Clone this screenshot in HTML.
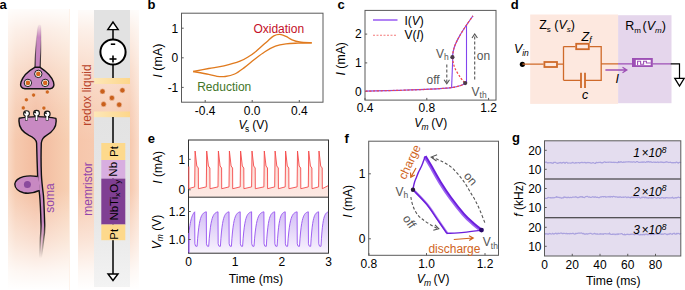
<!DOCTYPE html>
<html><head><meta charset="utf-8"><style>
html,body{margin:0;padding:0;background:#fff;width:685px;height:290px;overflow:hidden;}
svg{display:block;font-family:"Liberation Sans",sans-serif;}
</style></head><body>
<svg width="685" height="290" viewBox="0 0 685 290" font-family="Liberation Sans, sans-serif"><defs>
<linearGradient id="peachH" x1="8" x2="69.5" y1="0" y2="0" gradientUnits="userSpaceOnUse">
 <stop offset="0" stop-color="#f9dac6"/><stop offset="0.12" stop-color="#f6caaf"/><stop offset="0.45" stop-color="#f3bc9f"/><stop offset="0.65" stop-color="#f4c1a5"/><stop offset="1" stop-color="#f7d0b3"/>
</linearGradient>
<linearGradient id="peachH2" x1="78" x2="139" y1="0" y2="0" gradientUnits="userSpaceOnUse">
 <stop offset="0" stop-color="#f6c6ab"/><stop offset="0.5" stop-color="#f7cdb4"/><stop offset="0.85" stop-color="#f6c8ad"/><stop offset="1" stop-color="#fadcca"/>
</linearGradient>
<linearGradient id="fadeV" x1="0" x2="0" y1="9" y2="290" gradientUnits="userSpaceOnUse">
 <stop offset="0" stop-color="#fff" stop-opacity="0.95"/>
 <stop offset="0.075" stop-color="#fff" stop-opacity="0.72"/>
 <stop offset="0.217" stop-color="#fff" stop-opacity="0.38"/>
 <stop offset="0.36" stop-color="#fff" stop-opacity="0.12"/>
 <stop offset="0.47" stop-color="#fff" stop-opacity="0"/>
 <stop offset="0.64" stop-color="#fff" stop-opacity="0"/>
 <stop offset="0.82" stop-color="#fff" stop-opacity="0.5"/>
 <stop offset="0.93" stop-color="#fff" stop-opacity="0.85"/>
 <stop offset="1" stop-color="#fff" stop-opacity="1"/>
</linearGradient>
<linearGradient id="grayV" x1="0" x2="0" y1="0" y2="1">
 <stop offset="0" stop-color="#e3e3e3"/><stop offset="0.6" stop-color="#e7e7e7"/><stop offset="1" stop-color="#f3f3f3"/>
</linearGradient>
<linearGradient id="yel" x1="0" x2="1" y1="0" y2="0">
 <stop offset="0" stop-color="#fde7b8"/><stop offset="1" stop-color="#fdd68a"/>
</linearGradient>
<linearGradient id="axonFade" x1="0" x2="0" y1="0" y2="1">
 <stop offset="0" stop-color="#c77fbf" stop-opacity="0"/><stop offset="0.35" stop-color="#c77fbf" stop-opacity="1"/><stop offset="1" stop-color="#b46aae"/>
</linearGradient>
<linearGradient id="pinkFill" x1="0" x2="0" y1="150" y2="197" gradientUnits="userSpaceOnUse">
 <stop offset="0" stop-color="#fcdcd6"/><stop offset="1" stop-color="#fde9e3"/>
</linearGradient>
<linearGradient id="purpFill" x1="0" x2="0" y1="211" y2="253" gradientUnits="userSpaceOnUse">
 <stop offset="0" stop-color="#d4bff6"/><stop offset="1" stop-color="#f8f3fd"/>
</linearGradient>
</defs>
<text x="-0.6" y="8.9" font-size="13" fill="#000" text-anchor="start" font-weight="bold" font-style="normal" >a</text>
<rect x="8" y="9" width="61.5" height="281" fill="url(#peachH)"/>
<rect x="8" y="9" width="61.5" height="281" fill="url(#fadeV)"/>
<rect x="78" y="10" width="61" height="280" fill="url(#peachH2)"/>
<rect x="78" y="10" width="61" height="280" fill="url(#fadeV)"/>
<rect x="94" y="10" width="36" height="68" fill="#e2e2e2"/>
<rect x="94" y="117" width="36" height="170" fill="url(#grayV)"/>
<rect x="94" y="78" width="36" height="6" fill="url(#yel)"/>
<rect x="94" y="111.5" width="36" height="5.7" fill="url(#yel)"/>
<circle cx="102.5" cy="91.4" r="2.6" fill="#c9601c" stroke="#f4c8b0" stroke-width="0.6"/>
<circle cx="122.4" cy="90.3" r="2.6" fill="#c9601c" stroke="#f4c8b0" stroke-width="0.6"/>
<circle cx="111.9" cy="97.9" r="2.6" fill="#c9601c" stroke="#f4c8b0" stroke-width="0.6"/>
<circle cx="103.6" cy="104.2" r="2.6" fill="#c9601c" stroke="#f4c8b0" stroke-width="0.6"/>
<circle cx="119.2" cy="104.7" r="2.6" fill="#c9601c" stroke="#f4c8b0" stroke-width="0.6"/>
<line x1="113" y1="29.5" x2="113" y2="78" stroke="#000" stroke-width="1.5"/>
<line x1="113" y1="117" x2="113" y2="274" stroke="#000" stroke-width="1.5"/>
<path d="M113,22 L107.8,29.6 L118.2,29.6 Z" fill="#fff" stroke="#000" stroke-width="1.4" stroke-linejoin="miter"/>
<circle cx="113" cy="52" r="12.6" fill="#fff" stroke="#000" stroke-width="2"/>
<line x1="110.8" y1="44.2" x2="115.2" y2="44.2" stroke="#000" stroke-width="1.6"/>
<line x1="109.5" y1="59" x2="116.5" y2="59" stroke="#000" stroke-width="1.6"/><line x1="113" y1="55.5" x2="113" y2="62.5" stroke="#000" stroke-width="1.6"/>
<rect x="101.3" y="143" width="24" height="17" fill="#fdd98c"/>
<rect x="101.3" y="160" width="24" height="18.6" fill="#d8aee0"/>
<rect x="101.3" y="178.6" width="24" height="46" fill="#7f3f93"/>
<rect x="101.3" y="224.5" width="24" height="15.7" fill="#fdd98c"/>
<path d="M108,274 L118,274 L113,280.5 Z" fill="#fff" stroke="#000" stroke-width="1.4"/>
<text x="113.5" y="151.5" font-size="11.5" fill="#000" text-anchor="middle" font-style="normal" font-weight="normal" transform="rotate(-90 113.5 151.5)" dominant-baseline="central">Pt</text>
<text x="113.5" y="169.3" font-size="11.5" fill="#000" text-anchor="middle" font-style="normal" font-weight="normal" transform="rotate(-90 113.5 169.3)" dominant-baseline="central">Nb</text>
<text x="114.2" y="200.2" font-size="11.5" fill="#000" text-anchor="middle" font-style="normal" font-weight="normal" transform="rotate(-90 114.2 200.2)" dominant-baseline="central">NbTi<tspan font-size="8" dy="3">x</tspan><tspan dy="-3">O</tspan><tspan font-size="8" dy="3">y</tspan></text>
<text x="113.6" y="234.2" font-size="11.5" fill="#000" text-anchor="middle" font-style="normal" font-weight="normal" transform="rotate(-90 113.6 234.2)" dominant-baseline="central">Pt</text>
<text x="86.6" y="95" font-size="12" fill="#b8432a" text-anchor="middle" font-style="normal" font-weight="normal" transform="rotate(-90 86.6 95)" dominant-baseline="central">redox liquid</text>
<text x="87.7" y="189" font-size="12" fill="#9346ab" text-anchor="middle" font-style="normal" font-weight="normal" transform="rotate(-90 87.7 189)" dominant-baseline="central">memristor</text>
<text x="49.9" y="198" font-size="12" fill="#9346ab" text-anchor="middle" font-style="normal" font-weight="normal" transform="rotate(-90 49.9 198)" dominant-baseline="central">soma</text>
<linearGradient id="axF" x1="0" x2="0" y1="23" y2="70" gradientUnits="userSpaceOnUse"><stop offset="0" stop-color="#c683c0" stop-opacity="0"/><stop offset="0.08" stop-color="#c683c0" stop-opacity="0.25"/><stop offset="0.3" stop-color="#c683c0" stop-opacity="0.95"/><stop offset="1" stop-color="#c683c0"/></linearGradient>
<linearGradient id="axS" x1="0" x2="0" y1="23" y2="70" gradientUnits="userSpaceOnUse"><stop offset="0" stop-color="#111" stop-opacity="0"/><stop offset="0.35" stop-color="#111" stop-opacity="0.15"/><stop offset="0.7" stop-color="#111" stop-opacity="0.7"/><stop offset="1" stop-color="#111" stop-opacity="1"/></linearGradient>
<path d="M37.6,29 C38,24 40.8,23.5 41,27 C41.3,40 40.6,55 40.1,68 L35,68 C35.2,55 36.2,40 37.6,29 Z" fill="url(#axF)" stroke="url(#axS)" stroke-width="1.1"/>
<path d="M34.8,67.3 C29,70.5 23,76 21,82 C20,85.5 21,88.6 25,88.8 L50,88.8 C53.5,88.6 54.5,85.5 53.5,82 C51.5,76 45,70.5 40.1,67.3 Z" fill="#c889c2" stroke="#111" stroke-width="1.4" stroke-linejoin="round"/>
<circle cx="38.3" cy="73.9" r="3.7" fill="#fff" stroke="#1a1a1a" stroke-width="1"/><circle cx="38.3" cy="73.9" r="2.3" fill="#d5661e"/>
<circle cx="27.9" cy="82.9" r="3.7" fill="#fff" stroke="#1a1a1a" stroke-width="1"/><circle cx="27.9" cy="82.9" r="2.3" fill="#d5661e"/>
<circle cx="45.2" cy="82.9" r="3.7" fill="#fff" stroke="#1a1a1a" stroke-width="1"/><circle cx="45.2" cy="82.9" r="2.3" fill="#d5661e"/>
<circle cx="33.6" cy="95.1" r="2.05" fill="#d0661f" stroke="#fbe6d8" stroke-width="0.5"/>
<circle cx="47.3" cy="92" r="2.05" fill="#d0661f" stroke="#fbe6d8" stroke-width="0.5"/>
<circle cx="26.4" cy="99.8" r="2.05" fill="#d0661f" stroke="#fbe6d8" stroke-width="0.5"/>
<circle cx="23.3" cy="107.9" r="2.05" fill="#d0661f" stroke="#fbe6d8" stroke-width="0.5"/>
<circle cx="43.9" cy="108.1" r="2.05" fill="#d0661f" stroke="#fbe6d8" stroke-width="0.5"/>
<linearGradient id="dmG" x1="0" x2="0" y1="222" y2="258" gradientUnits="userSpaceOnUse"><stop offset="0" stop-color="#fff"/><stop offset="1" stop-color="#000"/></linearGradient><mask id="dendMask" maskUnits="userSpaceOnUse" x="0" y="100" width="70" height="170"><rect x="0" y="100" width="70" height="170" fill="url(#dmG)"/></mask>
<g mask="url(#dendMask)">
<path d="M19.2,118.3 C25,116.9 31,116.6 37.5,116.6 C44,116.6 50,117 55.9,118.4 C57.2,126 52.5,132 46.5,135.3 C43.5,137 41.7,139 41.3,143 C41,152 41,165 41.4,175 C41.8,183 42.8,190 43.4,195 C44,201 44.4,216 44.7,224 C44.8,230 44.2,236 43.8,238 C43,246 42,252 41.2,258 L39.8,258 C40,252 40.2,246 40.4,238 C40.8,233 41.2,229 41,224 C40.8,216 40.2,201 39.6,195 C39,190 38,183 37.6,175 C37.2,165 36.8,152 36.6,143 C36.2,139 33,137 29,135.3 C22.5,132 18,126 19.2,118.3 Z" fill="#c889c2" stroke="#111" stroke-width="1.4" stroke-linejoin="round"/>
</g>
<linearGradient id="fadeDend" x1="0" x2="0" y1="232" y2="260" gradientUnits="userSpaceOnUse"><stop offset="0" stop-color="#f9d9c8" stop-opacity="0"/><stop offset="1" stop-color="#fbe5d9" stop-opacity="1"/></linearGradient>
<path d="M37.6,176.5 C33,175.8 28,175.6 23.5,176.6 C18.5,177.8 14.8,181 14.8,184 C14.8,188 18.5,191.5 23.5,192.8 C29,194 34,193 39.2,190.5" fill="#c889c2" stroke="#111" stroke-width="1.4" stroke-linejoin="round"/>
<path d="M37.2,177.5 L38.8,190" stroke="#c889c2" stroke-width="2.4"/>
<circle cx="27.4" cy="184.4" r="3.5" fill="#8a4a9c"/>
<rect x="25.4" y="115.1" width="2.2" height="5.20" fill="#fff" stroke="#222" stroke-width="0.7"/>
<circle cx="26.5" cy="113.6" r="2.9" fill="#fff" stroke="#151515" stroke-width="1.1"/>
<path d="M23.6,113.0 L26.3,113.8 L25.3,110.89999999999999 Z" fill="#151515"/>
<rect x="25.75" y="115.39999999999999" width="1.5" height="4.50" fill="#fff"/>
<rect x="35.4" y="114.8" width="2.2" height="5.50" fill="#fff" stroke="#222" stroke-width="0.7"/>
<circle cx="36.5" cy="113.3" r="2.9" fill="#fff" stroke="#151515" stroke-width="1.1"/>
<path d="M33.6,112.7 L36.3,113.5 L35.3,110.6 Z" fill="#151515"/>
<rect x="35.75" y="115.1" width="1.5" height="4.80" fill="#fff"/>
<rect x="46.1" y="115.5" width="2.2" height="4.80" fill="#fff" stroke="#222" stroke-width="0.7"/>
<circle cx="47.2" cy="114" r="2.9" fill="#fff" stroke="#151515" stroke-width="1.1"/>
<path d="M44.300000000000004,113.4 L47.0,114.2 L46.0,111.3 Z" fill="#151515"/>
<rect x="46.45" y="115.8" width="1.5" height="4.10" fill="#fff"/>
<text x="147.6" y="8.9" font-size="13" fill="#000" text-anchor="start" font-weight="bold" font-style="normal" >b</text>
<rect x="181.5" y="13.2" width="141.5" height="89.0" fill="none" stroke="#5a5a5a" stroke-width="1"/>
<line x1="181.5" y1="28.2" x2="183.7" y2="28.2" stroke="#5a5a5a" stroke-width="1"/>
<text x="178.3" y="32.5" font-size="12" fill="#000" text-anchor="end" font-weight="normal" font-style="normal" >1</text>
<line x1="181.5" y1="57.8" x2="183.7" y2="57.8" stroke="#5a5a5a" stroke-width="1"/>
<text x="178.3" y="62.099999999999994" font-size="12" fill="#000" text-anchor="end" font-weight="normal" font-style="normal" >0</text>
<line x1="181.5" y1="87.4" x2="183.7" y2="87.4" stroke="#5a5a5a" stroke-width="1"/>
<text x="178.3" y="91.7" font-size="12" fill="#000" text-anchor="end" font-weight="normal" font-style="normal" >-1</text>
<line x1="205.2" y1="102.2" x2="205.2" y2="100.0" stroke="#5a5a5a" stroke-width="1"/>
<text x="205.2" y="115" font-size="12" fill="#000" text-anchor="middle" font-weight="normal" font-style="normal" >-0.4</text>
<line x1="252.2" y1="102.2" x2="252.2" y2="100.0" stroke="#5a5a5a" stroke-width="1"/>
<text x="252.2" y="115" font-size="12" fill="#000" text-anchor="middle" font-weight="normal" font-style="normal" >0.0</text>
<line x1="299.3" y1="102.2" x2="299.3" y2="100.0" stroke="#5a5a5a" stroke-width="1"/>
<text x="299.3" y="115" font-size="12" fill="#000" text-anchor="middle" font-weight="normal" font-style="normal" >0.4</text>
<path d="M193.20,71.50 C195.78,71.00 203.57,69.45 208.70,68.50 C213.83,67.55 218.78,67.02 224.00,65.80 C229.22,64.58 235.80,62.78 240.00,61.20 C244.20,59.62 246.47,58.00 249.20,56.30 C251.93,54.60 254.18,52.78 256.40,51.00 C258.62,49.22 260.60,47.28 262.50,45.60 C264.40,43.92 265.92,42.52 267.80,40.90 C269.68,39.28 271.78,36.98 273.80,35.90 C275.82,34.82 277.87,34.32 279.90,34.40 C281.93,34.48 283.97,35.50 286.00,36.40 C288.03,37.30 289.82,38.87 292.10,39.80 C294.38,40.73 296.42,41.48 299.70,42.00 C302.98,42.52 309.78,42.75 311.80,42.90" fill="none" stroke="#e07a1e" stroke-width="1.35"/>
<path d="M311.80,42.90 C309.52,42.95 302.40,43.03 298.10,43.20 C293.80,43.37 289.78,43.40 286.00,43.90 C282.22,44.40 278.92,44.88 275.40,46.20 C271.88,47.52 268.47,49.53 264.90,51.80 C261.33,54.07 257.43,57.17 254.00,59.80 C250.57,62.43 247.52,65.23 244.30,67.60 C241.08,69.97 237.88,72.52 234.70,74.00 C231.52,75.48 228.15,76.12 225.20,76.50 C222.25,76.88 219.75,76.65 217.00,76.30 C214.25,75.95 212.67,75.20 208.70,74.40 C204.73,73.60 195.78,71.98 193.20,71.50" fill="none" stroke="#e07a1e" stroke-width="1.35"/>
<text x="253.4" y="32.8" font-size="12" fill="#c40f28" text-anchor="start" font-weight="normal" font-style="normal" >Oxidation</text>
<text x="197.2" y="90.5" font-size="12" fill="#437629" text-anchor="start" font-weight="normal" font-style="normal" >Reduction</text>
<text x="157.8" y="60.6" font-size="12.5" text-anchor="middle" transform="rotate(-90 157.8 60.6)" dominant-baseline="central"><tspan font-style="italic">I</tspan> (mA)</text>
<text x="238.4" y="129.3" font-size="12" fill="#000" text-anchor="start" font-weight="normal" font-style="normal" ><tspan font-style="italic">V</tspan><tspan font-size="8.5" dy="3" dx="-1.3">s</tspan><tspan dy="-3" dx="2.8">(V)</tspan></text>
<text x="337.4" y="9.1" font-size="13" fill="#000" text-anchor="start" font-weight="bold" font-style="normal" >c</text>
<rect x="365" y="10.4" width="131" height="89.69999999999999" fill="none" stroke="#5a5a5a" stroke-width="1"/>
<line x1="365" y1="34.1" x2="367.2" y2="34.1" stroke="#5a5a5a" stroke-width="1"/>
<text x="361.8" y="38.4" font-size="12" fill="#000" text-anchor="end" font-weight="normal" font-style="normal" >2</text>
<line x1="365" y1="62.9" x2="367.2" y2="62.9" stroke="#5a5a5a" stroke-width="1"/>
<text x="361.8" y="67.2" font-size="12" fill="#000" text-anchor="end" font-weight="normal" font-style="normal" >1</text>
<line x1="365" y1="91.4" x2="367.2" y2="91.4" stroke="#5a5a5a" stroke-width="1"/>
<text x="361.8" y="95.7" font-size="12" fill="#000" text-anchor="end" font-weight="normal" font-style="normal" >0</text>
<line x1="365" y1="100.1" x2="365" y2="97.89999999999999" stroke="#5a5a5a" stroke-width="1"/>
<text x="365" y="111.5" font-size="12" fill="#000" text-anchor="middle" font-weight="normal" font-style="normal" >0.4</text>
<line x1="426.8" y1="100.1" x2="426.8" y2="97.89999999999999" stroke="#5a5a5a" stroke-width="1"/>
<text x="426.8" y="111.5" font-size="12" fill="#000" text-anchor="middle" font-weight="normal" font-style="normal" >0.8</text>
<line x1="488.6" y1="100.1" x2="488.6" y2="97.89999999999999" stroke="#5a5a5a" stroke-width="1"/>
<text x="488.6" y="111.5" font-size="12" fill="#000" text-anchor="middle" font-weight="normal" font-style="normal" >1.2</text>
<path d="M365.50,91.20 C371.25,91.05 389.25,90.63 400.00,90.30 C410.75,89.97 421.43,89.65 430.00,89.20 C438.57,88.75 446.17,88.25 451.40,87.60 C456.63,86.95 459.10,86.05 461.40,85.30 C463.70,84.55 464.57,83.47 465.20,83.10" fill="none" stroke="#8245ee" stroke-width="1.2"/>
<path d="M452.40,57.20 C452.55,56.17 452.83,53.07 453.30,51.00 C453.77,48.93 454.10,47.40 455.20,44.80 C456.30,42.20 458.00,38.72 459.90,35.40 C461.80,32.08 464.42,28.17 466.60,24.90 C468.78,21.63 471.93,17.32 473.00,15.80" fill="none" stroke="#8245ee" stroke-width="1.2"/>
<line x1="466.5" y1="83.5" x2="466.5" y2="25" stroke="#8245ee" stroke-width="1.1"/>
<line x1="452.8" y1="57" x2="451.6" y2="87.8" stroke="#8245ee" stroke-width="1.1"/>
<path d="M365.50,91.20 C371.25,91.05 389.25,90.63 400.00,90.30 C410.75,89.97 421.43,89.65 430.00,89.20 C438.57,88.75 446.17,88.25 451.40,87.60 C456.63,86.95 459.10,86.05 461.40,85.30 C463.70,84.55 464.57,83.47 465.20,83.10" fill="none" stroke="#f24848" stroke-width="1.2" stroke-dasharray="2.2 1.6"/>
<path d="M452.40,57.20 C452.55,56.17 452.83,53.07 453.30,51.00 C453.77,48.93 454.10,47.40 455.20,44.80 C456.30,42.20 458.00,38.72 459.90,35.40 C461.80,32.08 464.42,28.17 466.60,24.90 C468.78,21.63 471.93,17.32 473.00,15.80" fill="none" stroke="#f24848" stroke-width="1.2" stroke-dasharray="2.2 1.6"/>
<path d="M452.40,57.20 C452.75,58.87 453.15,63.80 454.50,67.20 C455.85,70.60 458.72,74.95 460.50,77.60 C462.28,80.25 464.42,82.18 465.20,83.10" fill="none" stroke="#f24848" stroke-width="1.2" stroke-dasharray="2.2 1.6"/>
<circle cx="452.4" cy="57.2" r="2.1" fill="#4a3a4a"/><circle cx="465.2" cy="83.1" r="2.1" fill="#4a3a4a"/>
<line x1="373" y1="20" x2="397.5" y2="20" stroke="#a36cf4" stroke-width="1.7"/>
<line x1="373" y1="35.2" x2="397.5" y2="35.2" stroke="#f47a7a" stroke-width="1.1" stroke-dasharray="2 1.5"/>
<text x="404.5" y="24.6" font-size="12" fill="#000" text-anchor="start" font-weight="normal" font-style="normal" >I(<tspan font-style="italic">V</tspan>)</text>
<text x="404.5" y="39.3" font-size="12" fill="#000" text-anchor="start" font-weight="normal" font-style="normal" >V(<tspan font-style="italic">I</tspan>)</text>
<line x1="474.7" y1="79.5" x2="474.7" y2="35" stroke="#555" stroke-width="1.1" stroke-dasharray="3 2"/>
<path d="M472,38 L474.7,34 L477.4,38" fill="none" stroke="#555" stroke-width="1.1"/>
<line x1="446.8" y1="64.5" x2="446.8" y2="83" stroke="#555" stroke-width="1.1" stroke-dasharray="3 2"/>
<path d="M444.1,79.8 L446.8,83.8 L449.5,79.8" fill="none" stroke="#555" stroke-width="1.1"/>
<text x="436" y="57.8" font-size="12" fill="#555" text-anchor="start" font-weight="normal" font-style="normal" >V<tspan font-size="8.5" dy="2.5">h</tspan></text>
<text x="426.5" y="83.5" font-size="12" fill="#555" text-anchor="start" font-weight="normal" font-style="normal" >off</text>
<text x="476.8" y="60" font-size="12" fill="#555" text-anchor="start" font-weight="normal" font-style="normal" >on</text>
<text x="471.5" y="95.8" font-size="12" fill="#555" text-anchor="start" font-weight="normal" font-style="normal" >V<tspan font-size="8.5" dy="2.5">th</tspan></text>
<text x="341.4" y="58.8" font-size="12.3" text-anchor="middle" transform="rotate(-90 341.4 58.8)" dominant-baseline="central"><tspan font-style="italic">I</tspan> (mA)</text>
<text x="414.3" y="126.9" font-size="12" fill="#000" text-anchor="start" font-weight="normal" font-style="normal" ><tspan font-style="italic">V<tspan font-size="8.5" dy="3" dx="-0.8">m</tspan></tspan><tspan dy="-3" dx="2.6">(V)</tspan></text>
<text x="510.8" y="8.9" font-size="13" fill="#000" text-anchor="start" font-weight="bold" font-style="normal" >d</text>
<rect x="530.2" y="14.5" width="87.9" height="89.4" fill="#fde8df"/>
<rect x="618.1" y="15.2" width="53.4" height="88" fill="#e5d6ec"/>
<circle cx="522.4" cy="64.3" r="2.6" fill="#000"/>
<path d="M522.4,64.2 L543.6,64.2 M557.4,64.2 L563.5,64.2 M563.5,46.6 L563.5,80.2 M563.5,46.6 L575.4,46.6 M589.5,46.6 L601.2,46.6 L601.2,80.4 L585,80.4 M581,80.4 L563.5,80.4 M601.2,63.8 L618,63.8" fill="none" stroke="#cf6a2a" stroke-width="1.3"/>
<rect x="544.4" y="62" width="12.6" height="5" fill="none" stroke="#cf6a2a" stroke-width="1.8"/>
<rect x="576.2" y="43.8" width="12.6" height="5.4" fill="none" stroke="#cf6a2a" stroke-width="1.8"/>
<path d="M581,72.8 L581,88 M585,72.8 L585,88" stroke="#cf6a2a" stroke-width="1.8"/>
<path d="M618,63.8 L632.3,63.8 M652.6,63.8 L670.6,63.8" stroke="#9d50b5" stroke-width="1.3"/>
<rect x="632" y="58" width="20.8" height="9" fill="#9d50b5"/>
<rect x="635.8" y="59.9" width="14.9" height="5.3" fill="#fff"/>
<path d="M637.6,65.3 L637.6,61.3 L640.6,61.3 L640.6,64.2 L643.6,64.2 L643.6,61.3 L646.4,61.3 L646.4,63 L650.8,63" fill="none" stroke="#9d50b5" stroke-width="1.1"/>
<path d="M670.6,63.8 L679.5,63.8 L679.5,78.3" fill="none" stroke="#000" stroke-width="1.2"/>
<path d="M674.8,78.3 L684.2,78.3 L679.5,86 Z" fill="#fff" stroke="#000" stroke-width="1.3"/>
<path d="M605.4,70 L626.5,70 M622.5,67.3 L626.8,70 L622.5,72.7" fill="none" stroke="#9d50b5" stroke-width="1.3"/>
<text x="615.5" y="83.3" font-size="12.5" fill="#000" text-anchor="start" font-weight="normal" font-style="italic" >I</text>
<text x="539.2" y="29.4" font-size="12.5" fill="#000" text-anchor="start" font-weight="normal" font-style="normal" >Z<tspan font-size="8" dy="2.5">s</tspan><tspan dy="-2.5"> (</tspan><tspan font-style="italic">V</tspan><tspan font-size="8" dy="2.5" font-style="italic">s</tspan><tspan dy="-2.5">)</tspan></text>
<text x="581.5" y="40.5" font-size="12.5" fill="#000" text-anchor="start" font-weight="normal" font-style="italic" >Z<tspan font-size="8.5" dy="2.5">f</tspan></text>
<text x="513.9" y="52.9" font-size="12.5" fill="#000" text-anchor="start" font-weight="normal" font-style="italic" >V<tspan font-size="8.5" dy="3.3">in</tspan></text>
<text x="582" y="99" font-size="12.5" fill="#000" text-anchor="start" font-weight="normal" font-style="italic" >c</text>
<text x="625.3" y="30.3" font-size="12.5" fill="#000" text-anchor="start" font-weight="normal" font-style="normal" >R<tspan font-size="8" dy="2.5">m</tspan><tspan dy="-2.5" dx="1.5">(</tspan><tspan font-style="italic">V</tspan><tspan font-size="8" dy="2.5" font-style="italic">m</tspan><tspan dy="-2.5">)</tspan></text>
<text x="147.8" y="142.7" font-size="13" fill="#000" text-anchor="start" font-weight="bold" font-style="normal" >e</text>
<path d="M188.50,166.90 L188.50,188.70 L194.70,186.90 L195.10,151.00 L196.80,166.00 L198.30,168.00 L198.40,188.70 L206.30,186.90 L206.70,151.00 L208.40,166.00 L209.90,168.00 L210.00,188.70 L218.00,186.90 L218.40,151.00 L220.10,166.00 L221.60,168.00 L221.70,188.70 L229.00,186.90 L229.40,151.00 L231.10,166.00 L232.60,168.00 L232.70,188.70 L240.20,186.90 L240.60,151.00 L242.30,166.00 L243.80,168.00 L243.90,188.70 L251.60,186.90 L252.00,151.00 L253.70,166.00 L255.20,168.00 L255.30,188.70 L263.90,186.90 L264.30,151.00 L266.00,166.00 L267.50,168.00 L267.60,188.70 L274.70,186.90 L275.10,151.00 L276.80,166.00 L278.30,168.00 L278.40,188.70 L285.20,186.90 L285.60,151.00 L287.30,166.00 L288.80,168.00 L288.90,188.70 L297.10,186.90 L297.50,151.00 L299.20,166.00 L300.70,168.00 L300.80,188.70 L308.30,186.90 L308.70,151.00 L310.40,166.00 L311.90,168.00 L312.00,188.70 L318.60,186.90 L319.00,151.00 L320.70,166.00 L322.20,168.00 L322.30,188.70 L328.50,185.50 L328.5,197.2 L188.5,197.2 Z" fill="url(#pinkFill)"/>
<path d="M188.50,166.90 L188.50,188.70 L194.70,186.90 L195.10,151.00 L196.80,166.00 L198.30,168.00 L198.40,188.70 L206.30,186.90 L206.70,151.00 L208.40,166.00 L209.90,168.00 L210.00,188.70 L218.00,186.90 L218.40,151.00 L220.10,166.00 L221.60,168.00 L221.70,188.70 L229.00,186.90 L229.40,151.00 L231.10,166.00 L232.60,168.00 L232.70,188.70 L240.20,186.90 L240.60,151.00 L242.30,166.00 L243.80,168.00 L243.90,188.70 L251.60,186.90 L252.00,151.00 L253.70,166.00 L255.20,168.00 L255.30,188.70 L263.90,186.90 L264.30,151.00 L266.00,166.00 L267.50,168.00 L267.60,188.70 L274.70,186.90 L275.10,151.00 L276.80,166.00 L278.30,168.00 L278.40,188.70 L285.20,186.90 L285.60,151.00 L287.30,166.00 L288.80,168.00 L288.90,188.70 L297.10,186.90 L297.50,151.00 L299.20,166.00 L300.70,168.00 L300.80,188.70 L308.30,186.90 L308.70,151.00 L310.40,166.00 L311.90,168.00 L312.00,188.70 L318.60,186.90 L319.00,151.00 L320.70,166.00 L322.20,168.00 L322.30,188.70 L328.50,185.50" fill="none" stroke="#f44a4a" stroke-width="0.9" stroke-linejoin="round"/>
<path d="M188.8,253 L188.8,234 L189.17,230.79 L189.54,228.00 L189.91,225.56 L190.28,223.44 L190.64,221.59 L191.01,219.97 L191.38,218.57 L191.75,217.34 L192.12,216.28 L192.49,215.35 L192.86,214.54 L193.22,213.83 L193.59,213.21 L193.96,212.68 L194.33,212.21 L194.70,211.80 L194.85,243.80 Q195.30,247.20 197.10,246.30 L197.67,238.21 L198.25,231.99 L198.82,227.21 L199.40,223.53 L199.97,220.70 L200.55,218.53 L201.12,216.85 L201.70,215.56 L202.28,214.57 L202.85,213.81 L203.43,213.23 L204.00,212.78 L204.58,212.43 L205.15,212.16 L205.73,211.96 L206.30,211.80 L206.45,243.80 Q206.90,247.20 208.70,246.30 L209.28,238.21 L209.86,231.99 L210.44,227.21 L211.03,223.53 L211.61,220.70 L212.19,218.53 L212.77,216.85 L213.35,215.56 L213.93,214.57 L214.51,213.81 L215.09,213.23 L215.68,212.78 L216.26,212.43 L216.84,212.16 L217.42,211.96 L218.00,211.80 L218.15,243.80 Q218.60,247.20 220.40,246.30 L220.94,238.21 L221.47,231.99 L222.01,227.21 L222.55,223.53 L223.09,220.70 L223.62,218.53 L224.16,216.85 L224.70,215.56 L225.24,214.57 L225.78,213.81 L226.31,213.23 L226.85,212.78 L227.39,212.43 L227.93,212.16 L228.46,211.96 L229.00,211.80 L229.15,243.80 Q229.60,247.20 231.40,246.30 L231.95,238.21 L232.50,231.99 L233.05,227.21 L233.60,223.53 L234.15,220.70 L234.70,218.53 L235.25,216.85 L235.80,215.56 L236.35,214.57 L236.90,213.81 L237.45,213.23 L238.00,212.78 L238.55,212.43 L239.10,212.16 L239.65,211.96 L240.20,211.80 L240.35,243.80 Q240.80,247.20 242.60,246.30 L243.16,238.21 L243.72,231.99 L244.29,227.21 L244.85,223.53 L245.41,220.70 L245.97,218.53 L246.54,216.85 L247.10,215.56 L247.66,214.57 L248.22,213.81 L248.79,213.23 L249.35,212.78 L249.91,212.43 L250.47,212.16 L251.04,211.96 L251.60,211.80 L251.75,243.80 Q252.20,247.20 254.00,246.30 L254.62,238.21 L255.24,231.99 L255.86,227.21 L256.48,223.53 L257.09,220.70 L257.71,218.53 L258.33,216.85 L258.95,215.56 L259.57,214.57 L260.19,213.81 L260.81,213.23 L261.42,212.78 L262.04,212.43 L262.66,212.16 L263.28,211.96 L263.90,211.80 L264.05,243.80 Q264.50,247.20 266.30,246.30 L266.82,238.21 L267.35,231.99 L267.87,227.21 L268.40,223.53 L268.92,220.70 L269.45,218.53 L269.97,216.85 L270.50,215.56 L271.02,214.57 L271.55,213.81 L272.07,213.23 L272.60,212.78 L273.12,212.43 L273.65,212.16 L274.18,211.96 L274.70,211.80 L274.85,243.80 Q275.30,247.20 277.10,246.30 L277.61,238.21 L278.11,231.99 L278.62,227.21 L279.12,223.53 L279.63,220.70 L280.14,218.53 L280.64,216.85 L281.15,215.56 L281.66,214.57 L282.16,213.81 L282.67,213.23 L283.17,212.78 L283.68,212.43 L284.19,212.16 L284.69,211.96 L285.20,211.80 L285.35,243.80 Q285.80,247.20 287.60,246.30 L288.19,238.21 L288.79,231.99 L289.38,227.21 L289.97,223.53 L290.57,220.70 L291.16,218.53 L291.76,216.85 L292.35,215.56 L292.94,214.57 L293.54,213.81 L294.13,213.23 L294.73,212.78 L295.32,212.43 L295.91,212.16 L296.51,211.96 L297.10,211.80 L297.25,243.80 Q297.70,247.20 299.50,246.30 L300.05,238.21 L300.60,231.99 L301.15,227.21 L301.70,223.53 L302.25,220.70 L302.80,218.53 L303.35,216.85 L303.90,215.56 L304.45,214.57 L305.00,213.81 L305.55,213.23 L306.10,212.78 L306.65,212.43 L307.20,212.16 L307.75,211.96 L308.30,211.80 L308.45,243.80 Q308.90,247.20 310.70,246.30 L311.19,238.21 L311.69,231.99 L312.18,227.21 L312.68,223.53 L313.17,220.70 L313.66,218.53 L314.16,216.85 L314.65,215.56 L315.14,214.57 L315.64,213.81 L316.13,213.23 L316.62,212.78 L317.12,212.43 L317.61,212.16 L318.11,211.96 L318.60,211.80 L318.75,243.80 Q319.20,247.20 321.00,246.30 L321.47,238.21 L321.94,231.99 L322.41,227.21 L322.88,223.53 L323.34,220.70 L323.81,218.53 L324.28,216.85 L324.75,215.56 L325.22,214.57 L325.69,213.81 L326.16,213.23 L326.62,212.78 L327.09,212.43 L327.56,212.16 L328.03,211.96 L328.50,211.80 L328.5,253.2 L188.5,253.2 Z" fill="url(#purpFill)"/>
<path d="M188.8,253 L188.8,234 L189.17,230.79 L189.54,228.00 L189.91,225.56 L190.28,223.44 L190.64,221.59 L191.01,219.97 L191.38,218.57 L191.75,217.34 L192.12,216.28 L192.49,215.35 L192.86,214.54 L193.22,213.83 L193.59,213.21 L193.96,212.68 L194.33,212.21 L194.70,211.80 L194.85,243.80 Q195.30,247.20 197.10,246.30 L197.67,238.21 L198.25,231.99 L198.82,227.21 L199.40,223.53 L199.97,220.70 L200.55,218.53 L201.12,216.85 L201.70,215.56 L202.28,214.57 L202.85,213.81 L203.43,213.23 L204.00,212.78 L204.58,212.43 L205.15,212.16 L205.73,211.96 L206.30,211.80 L206.45,243.80 Q206.90,247.20 208.70,246.30 L209.28,238.21 L209.86,231.99 L210.44,227.21 L211.03,223.53 L211.61,220.70 L212.19,218.53 L212.77,216.85 L213.35,215.56 L213.93,214.57 L214.51,213.81 L215.09,213.23 L215.68,212.78 L216.26,212.43 L216.84,212.16 L217.42,211.96 L218.00,211.80 L218.15,243.80 Q218.60,247.20 220.40,246.30 L220.94,238.21 L221.47,231.99 L222.01,227.21 L222.55,223.53 L223.09,220.70 L223.62,218.53 L224.16,216.85 L224.70,215.56 L225.24,214.57 L225.78,213.81 L226.31,213.23 L226.85,212.78 L227.39,212.43 L227.93,212.16 L228.46,211.96 L229.00,211.80 L229.15,243.80 Q229.60,247.20 231.40,246.30 L231.95,238.21 L232.50,231.99 L233.05,227.21 L233.60,223.53 L234.15,220.70 L234.70,218.53 L235.25,216.85 L235.80,215.56 L236.35,214.57 L236.90,213.81 L237.45,213.23 L238.00,212.78 L238.55,212.43 L239.10,212.16 L239.65,211.96 L240.20,211.80 L240.35,243.80 Q240.80,247.20 242.60,246.30 L243.16,238.21 L243.72,231.99 L244.29,227.21 L244.85,223.53 L245.41,220.70 L245.97,218.53 L246.54,216.85 L247.10,215.56 L247.66,214.57 L248.22,213.81 L248.79,213.23 L249.35,212.78 L249.91,212.43 L250.47,212.16 L251.04,211.96 L251.60,211.80 L251.75,243.80 Q252.20,247.20 254.00,246.30 L254.62,238.21 L255.24,231.99 L255.86,227.21 L256.48,223.53 L257.09,220.70 L257.71,218.53 L258.33,216.85 L258.95,215.56 L259.57,214.57 L260.19,213.81 L260.81,213.23 L261.42,212.78 L262.04,212.43 L262.66,212.16 L263.28,211.96 L263.90,211.80 L264.05,243.80 Q264.50,247.20 266.30,246.30 L266.82,238.21 L267.35,231.99 L267.87,227.21 L268.40,223.53 L268.92,220.70 L269.45,218.53 L269.97,216.85 L270.50,215.56 L271.02,214.57 L271.55,213.81 L272.07,213.23 L272.60,212.78 L273.12,212.43 L273.65,212.16 L274.18,211.96 L274.70,211.80 L274.85,243.80 Q275.30,247.20 277.10,246.30 L277.61,238.21 L278.11,231.99 L278.62,227.21 L279.12,223.53 L279.63,220.70 L280.14,218.53 L280.64,216.85 L281.15,215.56 L281.66,214.57 L282.16,213.81 L282.67,213.23 L283.17,212.78 L283.68,212.43 L284.19,212.16 L284.69,211.96 L285.20,211.80 L285.35,243.80 Q285.80,247.20 287.60,246.30 L288.19,238.21 L288.79,231.99 L289.38,227.21 L289.97,223.53 L290.57,220.70 L291.16,218.53 L291.76,216.85 L292.35,215.56 L292.94,214.57 L293.54,213.81 L294.13,213.23 L294.73,212.78 L295.32,212.43 L295.91,212.16 L296.51,211.96 L297.10,211.80 L297.25,243.80 Q297.70,247.20 299.50,246.30 L300.05,238.21 L300.60,231.99 L301.15,227.21 L301.70,223.53 L302.25,220.70 L302.80,218.53 L303.35,216.85 L303.90,215.56 L304.45,214.57 L305.00,213.81 L305.55,213.23 L306.10,212.78 L306.65,212.43 L307.20,212.16 L307.75,211.96 L308.30,211.80 L308.45,243.80 Q308.90,247.20 310.70,246.30 L311.19,238.21 L311.69,231.99 L312.18,227.21 L312.68,223.53 L313.17,220.70 L313.66,218.53 L314.16,216.85 L314.65,215.56 L315.14,214.57 L315.64,213.81 L316.13,213.23 L316.62,212.78 L317.12,212.43 L317.61,212.16 L318.11,211.96 L318.60,211.80 L318.75,243.80 Q319.20,247.20 321.00,246.30 L321.47,238.21 L321.94,231.99 L322.41,227.21 L322.88,223.53 L323.34,220.70 L323.81,218.53 L324.28,216.85 L324.75,215.56 L325.22,214.57 L325.69,213.81 L326.16,213.23 L326.62,212.78 L327.09,212.43 L327.56,212.16 L328.03,211.96 L328.50,211.80" fill="none" stroke="#9a58f0" stroke-width="0.95" stroke-linejoin="round"/>
<rect x="188.5" y="140" width="140.0" height="113.19999999999999" fill="none" stroke="#333" stroke-width="1"/>
<line x1="188.5" y1="197.2" x2="328.5" y2="197.2" stroke="#333" stroke-width="1"/>
<line x1="188.8" y1="166.6" x2="188.8" y2="189" stroke="#f25a5a" stroke-width="1.1"/>
<line x1="188.8" y1="233" x2="188.8" y2="252.5" stroke="#9a58f0" stroke-width="1.1"/>
<line x1="188.5" y1="159.3" x2="190.7" y2="159.3" stroke="#5a5a5a" stroke-width="1"/>
<text x="185.3" y="163.60000000000002" font-size="12" fill="#000" text-anchor="end" font-weight="normal" font-style="normal" >1</text>
<line x1="188.5" y1="189.8" x2="190.7" y2="189.8" stroke="#5a5a5a" stroke-width="1"/>
<text x="185.3" y="194.10000000000002" font-size="12" fill="#000" text-anchor="end" font-weight="normal" font-style="normal" >0</text>
<line x1="188.5" y1="211.5" x2="190.7" y2="211.5" stroke="#5a5a5a" stroke-width="1"/>
<text x="185.5" y="215.8" font-size="12" fill="#000" text-anchor="end" font-weight="normal" font-style="normal" >1.2</text>
<line x1="188.5" y1="239.5" x2="190.7" y2="239.5" stroke="#5a5a5a" stroke-width="1"/>
<text x="185.5" y="243.8" font-size="12" fill="#000" text-anchor="end" font-weight="normal" font-style="normal" >1.0</text>
<text x="188.5" y="265.5" font-size="12" fill="#000" text-anchor="middle" font-weight="normal" font-style="normal" >0</text>
<text x="235.16666666666666" y="265.5" font-size="12" fill="#000" text-anchor="middle" font-weight="normal" font-style="normal" >1</text>
<text x="281.8333333333333" y="265.5" font-size="12" fill="#000" text-anchor="middle" font-weight="normal" font-style="normal" >2</text>
<text x="328.5" y="265.5" font-size="12" fill="#000" text-anchor="middle" font-weight="normal" font-style="normal" >3</text>
<text x="158.3" y="167.4" font-size="12" text-anchor="middle" transform="rotate(-90 158.3 167.4)" dominant-baseline="central"><tspan font-style="italic">I</tspan> (mA)</text>
<text x="157.2" y="232" font-size="12" text-anchor="middle" transform="rotate(-90 157.2 232)" dominant-baseline="central"><tspan font-style="italic">V<tspan font-size="8.5" dy="2.5">m</tspan></tspan><tspan dy="-2.5"> (V)</tspan></text>
<text x="255.9" y="283" font-size="12.2" fill="#000" text-anchor="middle" font-weight="normal" font-style="normal" >Time (ms)</text>
<text x="344.6" y="142.5" font-size="13" fill="#000" text-anchor="start" font-weight="bold" font-style="normal" >f</text>
<rect x="368.7" y="141.2" width="129.8" height="114.10000000000002" fill="none" stroke="#5a5a5a" stroke-width="1"/>
<line x1="368.7" y1="173.8" x2="370.9" y2="173.8" stroke="#5a5a5a" stroke-width="1"/>
<text x="365.5" y="178.10000000000002" font-size="12" fill="#000" text-anchor="end" font-weight="normal" font-style="normal" >1</text>
<line x1="368.7" y1="238.8" x2="370.9" y2="238.8" stroke="#5a5a5a" stroke-width="1"/>
<text x="365.5" y="243.10000000000002" font-size="12" fill="#000" text-anchor="end" font-weight="normal" font-style="normal" >0</text>
<line x1="368.9" y1="255.3" x2="368.9" y2="253.10000000000002" stroke="#5a5a5a" stroke-width="1"/>
<text x="368.9" y="268" font-size="12" fill="#000" text-anchor="middle" font-weight="normal" font-style="normal" >0.8</text>
<line x1="426.5" y1="255.3" x2="426.5" y2="253.10000000000002" stroke="#5a5a5a" stroke-width="1"/>
<text x="426.5" y="268" font-size="12" fill="#000" text-anchor="middle" font-weight="normal" font-style="normal" >1.0</text>
<line x1="485" y1="255.3" x2="485" y2="253.10000000000002" stroke="#5a5a5a" stroke-width="1"/>
<text x="485" y="268" font-size="12" fill="#000" text-anchor="middle" font-weight="normal" font-style="normal" >1.2</text>
<path d="M481.50,230.10 C480.08,228.97 475.98,225.97 473.00,223.30 C470.02,220.63 467.32,218.35 463.60,214.10 C459.88,209.85 454.58,203.12 450.70,197.80 C446.82,192.48 443.60,187.52 440.30,182.20 C437.00,176.88 433.42,170.23 430.90,165.90 C428.38,161.57 426.15,157.82 425.20,156.20" fill="none" stroke="#9a62f2" stroke-width="2.4" transform="translate(-0.7,0.6)"/>
<path d="M481.50,230.10 C480.08,228.97 475.98,225.97 473.00,223.30 C470.02,220.63 467.32,218.35 463.60,214.10 C459.88,209.85 454.58,203.12 450.70,197.80 C446.82,192.48 443.60,187.52 440.30,182.20 C437.00,176.88 433.42,170.23 430.90,165.90 C428.38,161.57 426.15,157.82 425.20,156.20" fill="none" stroke="#6c1fdc" stroke-width="1.9" transform="translate(0.4,-0.3)"/>
<path d="M413.00,189.80 C415.28,192.22 422.60,199.28 426.70,204.30 C430.80,209.32 434.23,215.05 437.60,219.90 C440.97,224.75 445.35,231.15 446.90,233.40" fill="none" stroke="#b48af0" stroke-width="2.2" transform="translate(0.9,0.5)"/>
<path d="M413.00,189.80 C415.28,192.22 422.60,199.28 426.70,204.30 C430.80,209.32 434.23,215.05 437.60,219.90 C440.97,224.75 445.35,231.15 446.90,233.40" fill="none" stroke="#6c1fdc" stroke-width="1.5"/>
<path d="M425.20,156.20 C424.95,156.92 424.22,159.07 423.70,160.50 C423.18,161.93 422.65,163.48 422.10,164.80 C421.55,166.12 421.03,167.10 420.40,168.40 C419.77,169.70 418.95,171.13 418.30,172.60 C417.65,174.07 417.12,175.63 416.50,177.20 C415.88,178.77 415.08,180.53 414.60,182.00 C414.12,183.47 413.87,184.70 413.60,186.00 C413.33,187.30 413.10,189.17 413.00,189.80" fill="none" stroke="#6c1fdc" stroke-width="1.4"/>
<path d="M446.90,233.40 C449.75,233.22 458.23,232.85 464.00,232.30 C469.77,231.75 478.58,230.47 481.50,230.10" fill="none" stroke="#6c1fdc" stroke-width="1.3"/>
<circle cx="413" cy="189.8" r="2.2" fill="#2a1a3a"/><circle cx="481.5" cy="230.1" r="2.4" fill="#2a0a6a"/>
<path d="M484.80,222.60 C484.03,220.67 481.75,214.62 480.20,211.00 C478.65,207.38 477.13,204.02 475.50,200.90 C473.87,197.78 472.18,195.30 470.40,192.30 C468.62,189.30 466.93,186.02 464.80,182.90 C462.67,179.78 460.02,176.35 457.60,173.60 C455.18,170.85 452.97,168.47 450.30,166.40 C447.63,164.33 444.65,162.72 441.60,161.20 C438.55,159.68 433.60,157.95 432.00,157.30" fill="none" stroke="#555" stroke-width="1.1" stroke-dasharray="3 2"/>
<path d="M437.1,154.8 L431.2,157.1 L436.5,161" fill="none" stroke="#555" stroke-width="1.1"/>
<path d="M410.9,197 C412,206 416,215 421.7,218.7 C426,222 432,226 438,228.6" fill="none" stroke="#555" stroke-width="1.1" stroke-dasharray="3 2"/>
<path d="M433.3,230.3 L438.8,228.8 L435,224.8" fill="none" stroke="#555" stroke-width="1.1"/>
<text x="470.6" y="178.8" font-size="12" fill="#555" text-anchor="middle" dominant-baseline="central" transform="rotate(50 470.6 178.8)">on</text>
<text x="409.4" y="221.5" font-size="12" fill="#555" text-anchor="middle" dominant-baseline="central" transform="rotate(55 409.4 221.5)">off</text>
<text x="395.6" y="195.8" font-size="12" fill="#555" text-anchor="start" font-weight="normal" font-style="normal" >V<tspan font-size="8.5" dy="2.5">h</tspan></text>
<text x="482.8" y="246" font-size="12" fill="#555" text-anchor="start" font-weight="normal" font-style="normal" >V<tspan font-size="8.5" dy="2.5">th</tspan></text>
<text x="409.6" y="162" font-size="12" fill="#d0641e" text-anchor="middle" dominant-baseline="central" transform="rotate(-65 409.6 162)">charge</text>
<path d="M416,168 L410.8,177.3 M410.5,172.5 L410.8,177.3 L414.8,175" fill="none" stroke="#d0641e" stroke-width="1.2"/>
<text x="428.4" y="253" font-size="12" fill="#d0641e" text-anchor="start" font-weight="normal" font-style="normal" >discharge</text>
<path d="M453.8,239.5 L473,238 M469,235.8 L473.2,238 L469.2,240.5" fill="none" stroke="#d0641e" stroke-width="1.2"/>
<text x="348.3" y="201.4" font-size="12" text-anchor="middle" transform="rotate(-90 348.3 201.4)" dominant-baseline="central"><tspan font-style="italic">I</tspan> (mA)</text>
<text x="416.7" y="283.2" font-size="12" fill="#000" text-anchor="start" font-weight="normal" font-style="normal" ><tspan font-style="italic">V<tspan font-size="8.5" dy="3" dx="-0.8">m</tspan></tspan><tspan dy="-3" dx="2.6">(V)</tspan></text>
<text x="511.9" y="141.7" font-size="13" fill="#000" text-anchor="start" font-weight="bold" font-style="normal" >g</text>
<rect x="544.5" y="140.8" width="136.29999999999995" height="115.19999999999999" fill="#e4ddef"/>
<line x1="544.5" y1="150.3" x2="546.7" y2="150.3" stroke="#5a5a5a" stroke-width="1"/>
<text x="541.5" y="154.60000000000002" font-size="12" fill="#000" text-anchor="end" font-weight="normal" font-style="normal" >20</text>
<line x1="544.5" y1="169.3" x2="546.7" y2="169.3" stroke="#5a5a5a" stroke-width="1"/>
<text x="541.5" y="173.60000000000002" font-size="12" fill="#000" text-anchor="end" font-weight="normal" font-style="normal" >10</text>
<path d="M544.5,162.16 L545.0,162.17 L545.5,162.40 L546.0,161.99 L546.5,161.99 L547.0,162.65 L547.5,162.88 L548.0,162.84 L548.5,162.81 L549.0,162.70 L549.5,162.78 L550.0,162.91 L550.5,162.61 L551.0,162.55 L551.5,162.91 L552.0,163.15 L552.5,163.18 L553.0,163.32 L553.5,162.65 L554.0,162.39 L554.5,162.45 L555.0,162.37 L555.5,162.40 L556.0,162.61 L556.5,163.01 L557.0,163.26 L557.5,163.46 L558.0,162.82 L558.5,163.20 L559.0,163.06 L559.5,162.66 L560.0,162.77 L560.5,162.38 L561.0,163.00 L561.5,163.17 L562.0,162.69 L562.5,162.98 L563.0,162.49 L563.5,162.23 L564.0,162.34 L564.5,162.99 L565.0,163.37 L565.5,162.75 L566.0,162.37 L566.5,162.51 L567.0,162.36 L567.5,162.91 L568.0,163.31 L568.5,163.00 L569.0,162.96 L569.5,163.01 L570.0,163.06 L570.5,162.99 L571.0,163.14 L571.5,162.85 L572.0,162.89 L572.5,162.45 L573.0,162.46 L573.5,162.92 L574.0,163.03 L574.5,163.13 L575.0,163.21 L575.5,162.64 L576.0,162.92 L576.5,162.69 L577.0,162.86 L577.5,162.76 L578.0,162.70 L578.5,162.61 L579.0,162.66 L579.5,163.15 L580.0,162.78 L580.5,162.59 L581.0,162.66 L581.5,162.40 L582.0,162.46 L582.5,162.59 L583.0,162.42 L583.5,162.75 L584.0,162.75 L584.5,162.45 L585.0,162.35 L585.5,162.87 L586.0,162.66 L586.5,162.86 L587.0,162.70 L587.5,162.56 L588.0,162.46 L588.5,162.54 L589.0,162.57 L589.5,162.49 L590.0,162.88 L590.5,162.77 L591.0,163.15 L591.5,163.19 L592.0,163.13 L592.5,162.76 L593.0,162.49 L593.5,162.67 L594.0,162.96 L594.5,163.20 L595.0,163.35 L595.5,163.40 L596.0,162.63 L596.5,162.34 L597.0,162.62 L597.5,162.54 L598.0,162.67 L598.5,162.42 L599.0,162.47 L599.5,162.39 L600.0,162.50 L600.5,162.23 L601.0,162.75 L601.5,162.70 L602.0,163.08 L602.5,162.61 L603.0,162.58 L603.5,162.51 L604.0,162.04 L604.5,161.89 L605.0,161.75 L605.5,162.38 L606.0,162.40 L606.5,162.23 L607.0,162.44 L607.5,162.29 L608.0,162.17 L608.5,162.30 L609.0,162.21 L609.5,161.98 L610.0,162.22 L610.5,162.15 L611.0,162.33 L611.5,162.19 L612.0,162.41 L612.5,162.52 L613.0,162.16 L613.5,162.37 L614.0,162.24 L614.5,162.57 L615.0,162.29 L615.5,162.50 L616.0,162.32 L616.5,162.53 L617.0,162.71 L617.5,162.61 L618.0,162.45 L618.5,161.55 L619.0,162.51 L619.5,161.96 L620.0,162.36 L620.5,161.81 L621.0,161.59 L621.5,161.96 L622.0,162.41 L622.5,162.43 L623.0,162.31 L623.5,161.83 L624.0,162.31 L624.5,162.01 L625.0,162.31 L625.5,161.88 L626.0,162.03 L626.5,161.91 L627.0,161.85 L627.5,161.83 L628.0,161.89 L628.5,161.84 L629.0,161.59 L629.5,161.98 L630.0,161.98 L630.5,162.09 L631.0,161.70 L631.5,162.03 L632.0,162.00 L632.5,162.16 L633.0,161.84 L633.5,161.95 L634.0,161.69 L634.5,162.20 L635.0,162.25 L635.5,162.41 L636.0,161.97 L636.5,161.51 L637.0,161.58 L637.5,161.60 L638.0,161.98 L638.5,162.39 L639.0,162.26 L639.5,162.40 L640.0,162.23 L640.5,162.28 L641.0,162.02 L641.5,162.38 L642.0,161.93 L642.5,162.12 L643.0,162.44 L643.5,161.97 L644.0,161.73 L644.5,162.00 L645.0,162.33 L645.5,162.48 L646.0,162.17 L646.5,161.69 L647.0,162.11 L647.5,161.91 L648.0,161.49 L648.5,161.98 L649.0,161.71 L649.5,162.24 L650.0,162.17 L650.5,161.89 L651.0,161.59 L651.5,162.14 L652.0,162.48 L652.5,162.52 L653.0,162.12 L653.5,162.22 L654.0,161.93 L654.5,162.40 L655.0,162.29 L655.5,162.19 L656.0,162.34 L656.5,162.29 L657.0,162.34 L657.5,161.95 L658.0,162.17 L658.5,162.54 L659.0,162.21 L659.5,162.28 L660.0,162.36 L660.5,162.11 L661.0,161.76 L661.5,162.19 L662.0,162.42 L662.5,162.12 L663.0,162.51 L663.5,162.40 L664.0,162.58 L664.5,162.29 L665.0,162.33 L665.5,162.18 L666.0,161.89 L666.5,161.73 L667.0,162.25 L667.5,162.01 L668.0,162.09 L668.5,162.50 L669.0,162.53 L669.5,162.38 L670.0,162.42 L670.5,162.15 L671.0,162.50 L671.5,162.85 L672.0,162.57 L672.5,162.60 L673.0,162.98 L673.5,162.58 L674.0,162.54 L674.5,162.66 L675.0,162.79 L675.5,162.70 L676.0,162.36 L676.5,162.04 L677.0,162.41 L677.5,162.55 L678.0,162.93 L678.5,163.05 L679.0,162.46 L679.5,162.30 L680.0,162.49 L680.5,162.41 L681.0,162.70" fill="none" stroke="#aaa2de" stroke-width="1.2" stroke-linejoin="round"/>
<text x="666.5" y="157.3" font-size="12" fill="#000" text-anchor="end" font-weight="normal" font-style="italic" >1<tspan dx="1.5">×</tspan>10<tspan font-size="8.5" dy="-4.5">8</tspan></text>
<line x1="544.5" y1="188.5" x2="546.7" y2="188.5" stroke="#5a5a5a" stroke-width="1"/>
<text x="541.5" y="192.8" font-size="12" fill="#000" text-anchor="end" font-weight="normal" font-style="normal" >20</text>
<line x1="544.5" y1="207.5" x2="546.7" y2="207.5" stroke="#5a5a5a" stroke-width="1"/>
<text x="541.5" y="211.8" font-size="12" fill="#000" text-anchor="end" font-weight="normal" font-style="normal" >10</text>
<path d="M544.5,198.22 L545.0,198.46 L545.5,198.42 L546.0,198.45 L546.5,198.52 L547.0,198.46 L547.5,197.85 L548.0,197.48 L548.5,197.35 L549.0,197.76 L549.5,197.73 L550.0,197.61 L550.5,197.95 L551.0,197.61 L551.5,197.91 L552.0,197.76 L552.5,197.88 L553.0,197.40 L553.5,197.84 L554.0,197.79 L554.5,197.53 L555.0,197.56 L555.5,197.23 L556.0,197.18 L556.5,196.58 L557.0,197.28 L557.5,197.09 L558.0,197.44 L558.5,197.23 L559.0,197.43 L559.5,197.66 L560.0,197.34 L560.5,197.70 L561.0,197.95 L561.5,198.21 L562.0,197.74 L562.5,197.98 L563.0,197.68 L563.5,197.82 L564.0,196.85 L564.5,197.35 L565.0,197.04 L565.5,197.42 L566.0,197.22 L566.5,197.35 L567.0,197.81 L567.5,197.26 L568.0,197.47 L568.5,197.12 L569.0,197.60 L569.5,197.45 L570.0,197.62 L570.5,197.25 L571.0,197.55 L571.5,197.54 L572.0,197.36 L572.5,197.14 L573.0,197.24 L573.5,197.00 L574.0,197.26 L574.5,197.20 L575.0,196.95 L575.5,196.69 L576.0,197.21 L576.5,196.89 L577.0,197.38 L577.5,197.68 L578.0,197.45 L578.5,197.57 L579.0,197.31 L579.5,197.18 L580.0,196.85 L580.5,196.66 L581.0,197.04 L581.5,196.70 L582.0,197.04 L582.5,196.66 L583.0,197.30 L583.5,197.29 L584.0,197.47 L584.5,197.57 L585.0,197.08 L585.5,196.71 L586.0,196.69 L586.5,196.51 L587.0,196.39 L587.5,196.44 L588.0,196.82 L588.5,197.16 L589.0,196.96 L589.5,196.94 L590.0,197.28 L590.5,197.44 L591.0,197.28 L591.5,197.36 L592.0,197.05 L592.5,196.64 L593.0,197.00 L593.5,197.12 L594.0,196.79 L594.5,197.31 L595.0,197.09 L595.5,196.77 L596.0,197.23 L596.5,197.44 L597.0,197.31 L597.5,197.17 L598.0,197.46 L598.5,197.62 L599.0,197.55 L599.5,197.71 L600.0,197.16 L600.5,196.76 L601.0,197.03 L601.5,196.99 L602.0,196.54 L602.5,196.50 L603.0,196.54 L603.5,196.92 L604.0,196.56 L604.5,196.63 L605.0,196.44 L605.5,196.83 L606.0,197.29 L606.5,197.00 L607.0,196.79 L607.5,196.87 L608.0,196.76 L608.5,196.63 L609.0,197.11 L609.5,196.84 L610.0,196.31 L610.5,197.08 L611.0,196.71 L611.5,196.54 L612.0,196.69 L612.5,197.06 L613.0,196.59 L613.5,196.32 L614.0,196.46 L614.5,196.73 L615.0,196.67 L615.5,197.08 L616.0,196.82 L616.5,196.83 L617.0,197.07 L617.5,197.32 L618.0,196.85 L618.5,197.19 L619.0,197.42 L619.5,197.05 L620.0,196.61 L620.5,197.17 L621.0,197.10 L621.5,197.47 L622.0,197.39 L622.5,197.27 L623.0,196.91 L623.5,197.45 L624.0,197.22 L624.5,197.14 L625.0,197.10 L625.5,196.82 L626.0,197.00 L626.5,197.40 L627.0,197.69 L627.5,197.05 L628.0,197.17 L628.5,197.00 L629.0,197.48 L629.5,197.53 L630.0,197.42 L630.5,197.77 L631.0,197.28 L631.5,197.00 L632.0,197.44 L632.5,197.18 L633.0,197.65 L633.5,197.42 L634.0,197.06 L634.5,197.63 L635.0,197.28 L635.5,196.95 L636.0,197.38 L636.5,197.52 L637.0,197.04 L637.5,197.64 L638.0,197.35 L638.5,197.20 L639.0,196.92 L639.5,197.59 L640.0,197.92 L640.5,198.18 L641.0,198.02 L641.5,197.41 L642.0,197.18 L642.5,197.65 L643.0,197.21 L643.5,197.42 L644.0,197.15 L644.5,197.80 L645.0,197.39 L645.5,197.17 L646.0,197.76 L646.5,197.44 L647.0,197.99 L647.5,197.62 L648.0,198.06 L648.5,198.08 L649.0,197.48 L649.5,197.81 L650.0,197.84 L650.5,197.83 L651.0,197.82 L651.5,197.52 L652.0,198.02 L652.5,197.62 L653.0,198.00 L653.5,197.70 L654.0,197.34 L654.5,197.47 L655.0,197.32 L655.5,197.79 L656.0,197.97 L656.5,198.15 L657.0,198.05 L657.5,197.64 L658.0,197.57 L658.5,197.59 L659.0,197.58 L659.5,198.14 L660.0,198.35 L660.5,197.94 L661.0,197.71 L661.5,197.79 L662.0,197.69 L662.5,197.58 L663.0,197.68 L663.5,197.80 L664.0,198.28 L664.5,198.06 L665.0,197.60 L665.5,198.05 L666.0,197.58 L666.5,197.62 L667.0,197.63 L667.5,197.79 L668.0,197.78 L668.5,198.02 L669.0,197.79 L669.5,197.75 L670.0,197.95 L670.5,198.00 L671.0,197.70 L671.5,197.89 L672.0,197.51 L672.5,197.13 L673.0,198.04 L673.5,198.18 L674.0,198.34 L674.5,198.08 L675.0,197.64 L675.5,197.63 L676.0,198.08 L676.5,197.69 L677.0,197.85 L677.5,197.42 L678.0,197.16 L678.5,197.17 L679.0,197.36 L679.5,197.50 L680.0,197.78 L680.5,197.42 L681.0,197.76" fill="none" stroke="#aaa2de" stroke-width="1.2" stroke-linejoin="round"/>
<text x="666.5" y="195.5" font-size="12" fill="#000" text-anchor="end" font-weight="normal" font-style="italic" >2<tspan dx="1.5">×</tspan>10<tspan font-size="8.5" dy="-4.5">8</tspan></text>
<line x1="544.5" y1="227.3" x2="546.7" y2="227.3" stroke="#5a5a5a" stroke-width="1"/>
<text x="541.5" y="231.60000000000002" font-size="12" fill="#000" text-anchor="end" font-weight="normal" font-style="normal" >20</text>
<line x1="544.5" y1="246.3" x2="546.7" y2="246.3" stroke="#5a5a5a" stroke-width="1"/>
<text x="541.5" y="250.60000000000002" font-size="12" fill="#000" text-anchor="end" font-weight="normal" font-style="normal" >10</text>
<path d="M544.5,233.82 L545.0,234.27 L545.5,233.63 L546.0,233.65 L546.5,234.02 L547.0,233.84 L547.5,234.16 L548.0,233.89 L548.5,234.08 L549.0,233.89 L549.5,233.45 L550.0,233.55 L550.5,233.66 L551.0,234.12 L551.5,233.96 L552.0,233.66 L552.5,233.34 L553.0,233.60 L553.5,233.87 L554.0,234.09 L554.5,233.62 L555.0,233.57 L555.5,233.32 L556.0,233.20 L556.5,233.78 L557.0,234.07 L557.5,233.60 L558.0,233.18 L558.5,233.26 L559.0,233.70 L559.5,233.55 L560.0,233.27 L560.5,233.18 L561.0,233.21 L561.5,233.11 L562.0,233.36 L562.5,233.62 L563.0,233.73 L563.5,233.35 L564.0,233.33 L564.5,233.50 L565.0,233.46 L565.5,233.74 L566.0,233.63 L566.5,233.37 L567.0,233.60 L567.5,233.84 L568.0,233.55 L568.5,233.51 L569.0,233.70 L569.5,233.82 L570.0,233.32 L570.5,233.72 L571.0,233.66 L571.5,233.54 L572.0,233.60 L572.5,233.29 L573.0,233.62 L573.5,233.39 L574.0,233.79 L574.5,234.10 L575.0,234.06 L575.5,233.38 L576.0,233.65 L576.5,233.58 L577.0,233.33 L577.5,233.48 L578.0,233.15 L578.5,233.17 L579.0,233.04 L579.5,233.00 L580.0,233.32 L580.5,233.03 L581.0,233.00 L581.5,232.96 L582.0,233.28 L582.5,233.75 L583.0,233.59 L583.5,233.40 L584.0,233.89 L584.5,234.17 L585.0,233.87 L585.5,234.18 L586.0,234.01 L586.5,233.58 L587.0,234.06 L587.5,234.10 L588.0,233.55 L588.5,233.84 L589.0,233.74 L589.5,233.57 L590.0,233.34 L590.5,233.31 L591.0,233.39 L591.5,233.78 L592.0,233.94 L592.5,234.14 L593.0,234.03 L593.5,233.83 L594.0,233.52 L594.5,233.40 L595.0,233.60 L595.5,234.03 L596.0,233.84 L596.5,233.91 L597.0,234.28 L597.5,233.80 L598.0,234.07 L598.5,234.22 L599.0,234.13 L599.5,234.14 L600.0,233.73 L600.5,234.19 L601.0,233.65 L601.5,234.07 L602.0,234.00 L602.5,234.11 L603.0,233.60 L603.5,234.34 L604.0,233.80 L604.5,233.77 L605.0,233.55 L605.5,233.70 L606.0,233.83 L606.5,233.81 L607.0,233.91 L607.5,233.88 L608.0,233.93 L608.5,233.87 L609.0,234.05 L609.5,232.96 L610.0,233.91 L610.5,234.11 L611.0,234.40 L611.5,234.47 L612.0,234.39 L612.5,234.16 L613.0,234.48 L613.5,234.03 L614.0,234.22 L614.5,234.20 L615.0,234.70 L615.5,234.41 L616.0,234.03 L616.5,234.15 L617.0,234.62 L617.5,234.06 L618.0,233.75 L618.5,234.37 L619.0,233.97 L619.5,233.98 L620.0,233.99 L620.5,233.85 L621.0,233.73 L621.5,233.63 L622.0,233.71 L622.5,234.26 L623.0,234.58 L623.5,234.64 L624.0,234.71 L624.5,234.09 L625.0,234.92 L625.5,234.65 L626.0,234.62 L626.5,234.52 L627.0,234.08 L627.5,234.47 L628.0,234.46 L628.5,234.34 L629.0,234.63 L629.5,234.55 L630.0,234.38 L630.5,234.20 L631.0,234.43 L631.5,234.18 L632.0,234.03 L632.5,234.02 L633.0,234.30 L633.5,234.21 L634.0,234.63 L634.5,234.77 L635.0,234.40 L635.5,234.17 L636.0,234.44 L636.5,234.11 L637.0,234.26 L637.5,234.37 L638.0,234.15 L638.5,234.43 L639.0,234.83 L639.5,235.02 L640.0,234.96 L640.5,234.41 L641.0,234.79 L641.5,234.73 L642.0,234.42 L642.5,234.79 L643.0,234.32 L643.5,234.66 L644.0,234.39 L644.5,234.79 L645.0,234.19 L645.5,234.12 L646.0,234.67 L646.5,234.17 L647.0,234.04 L647.5,234.58 L648.0,234.85 L648.5,234.45 L649.0,234.44 L649.5,234.30 L650.0,234.13 L650.5,234.61 L651.0,234.76 L651.5,234.33 L652.0,234.00 L652.5,234.49 L653.0,234.44 L653.5,234.30 L654.0,234.64 L654.5,234.27 L655.0,233.98 L655.5,233.92 L656.0,233.69 L656.5,233.83 L657.0,234.12 L657.5,233.92 L658.0,234.14 L658.5,233.98 L659.0,233.89 L659.5,233.83 L660.0,233.87 L660.5,233.78 L661.0,234.17 L661.5,234.37 L662.0,233.89 L662.5,234.27 L663.0,234.06 L663.5,234.35 L664.0,234.07 L664.5,233.60 L665.0,233.75 L665.5,233.81 L666.0,234.07 L666.5,234.45 L667.0,234.55 L667.5,234.53 L668.0,233.87 L668.5,234.19 L669.0,234.39 L669.5,233.76 L670.0,233.45 L670.5,233.59 L671.0,233.97 L671.5,234.06 L672.0,233.99 L672.5,234.26 L673.0,233.68 L673.5,233.53 L674.0,233.21 L674.5,233.26 L675.0,234.09 L675.5,234.11 L676.0,234.05 L676.5,233.31 L677.0,233.94 L677.5,233.58 L678.0,233.29 L678.5,233.41 L679.0,233.68 L679.5,233.88 L680.0,234.10 L680.5,233.65 L681.0,234.00" fill="none" stroke="#aaa2de" stroke-width="1.2" stroke-linejoin="round"/>
<text x="666.5" y="234.3" font-size="12" fill="#000" text-anchor="end" font-weight="normal" font-style="italic" >3<tspan dx="1.5">×</tspan>10<tspan font-size="8.5" dy="-4.5">8</tspan></text>
<line x1="544.5" y1="179" x2="680.8" y2="179" stroke="#222" stroke-width="1.1"/>
<line x1="544.5" y1="217.8" x2="680.8" y2="217.8" stroke="#222" stroke-width="1.1"/>
<rect x="544.5" y="140.8" width="136.29999999999995" height="115.19999999999999" fill="none" stroke="#5a5a5a" stroke-width="1"/>
<line x1="544.5" y1="256" x2="544.5" y2="253.8" stroke="#5a5a5a" stroke-width="1"/>
<text x="544.5" y="268.5" font-size="12" fill="#000" text-anchor="middle" font-weight="normal" font-style="normal" >0</text>
<line x1="572.25" y1="256" x2="572.25" y2="253.8" stroke="#5a5a5a" stroke-width="1"/>
<text x="572.25" y="268.5" font-size="12" fill="#000" text-anchor="middle" font-weight="normal" font-style="normal" >20</text>
<line x1="600.0" y1="256" x2="600.0" y2="253.8" stroke="#5a5a5a" stroke-width="1"/>
<text x="600.0" y="268.5" font-size="12" fill="#000" text-anchor="middle" font-weight="normal" font-style="normal" >40</text>
<line x1="627.75" y1="256" x2="627.75" y2="253.8" stroke="#5a5a5a" stroke-width="1"/>
<text x="627.75" y="268.5" font-size="12" fill="#000" text-anchor="middle" font-weight="normal" font-style="normal" >60</text>
<line x1="655.5" y1="256" x2="655.5" y2="253.8" stroke="#5a5a5a" stroke-width="1"/>
<text x="655.5" y="268.5" font-size="12" fill="#000" text-anchor="middle" font-weight="normal" font-style="normal" >80</text>
<text x="519.3" y="199" font-size="12" text-anchor="middle" transform="rotate(-90 519.3 199)" dominant-baseline="central"><tspan font-style="italic">f</tspan> (kHz)</text>
<text x="613.3" y="284.5" font-size="12.2" fill="#000" text-anchor="middle" font-weight="normal" font-style="normal" >Time (ms)</text></svg>
</body></html>
